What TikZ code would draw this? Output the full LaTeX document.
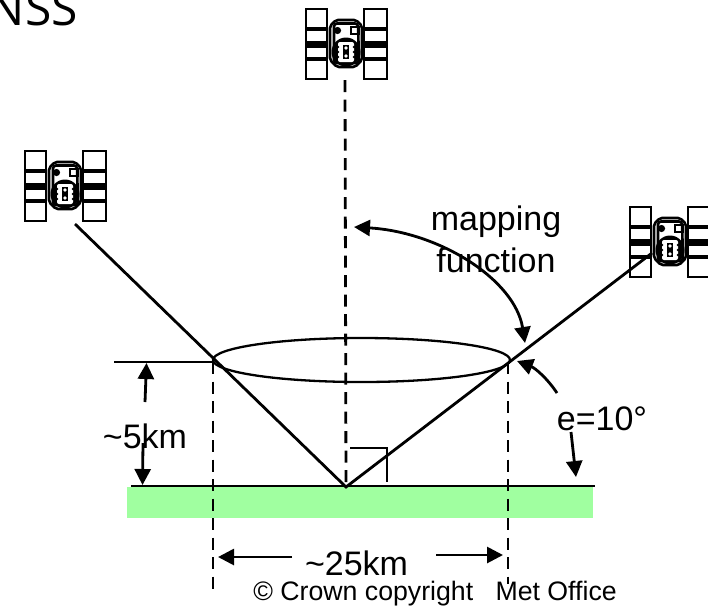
\documentclass[tikz,border=0pt]{standalone}
\usepackage{xcolor}
\usepackage{fontspec}
\setmainfont{Liberation Sans}
\newfontfamily\titlefont{Open Sans}
\usetikzlibrary{positioning,arrows.meta,shapes.geometric}
\definecolor{GroundGreen}{RGB}{160,255,160}
\tikzset{
  txtbig/.style={font=\fontsize{34}{41.5}\selectfont, inner sep=0pt, anchor=base, align=center},
  txtsmall/.style={font=\fontsize{26.7}{32}\selectfont, inner sep=0pt, anchor=base},
  solidln/.style={line width=2.8pt, black},
  thinln/.style={line width=2.3pt, black},
  dashln/.style={line width=2.8pt, black, dash pattern=on 12pt off 7.5pt},
  arr/.style={-{Triangle[length=16pt,width=16pt]}, line width=2.8pt, black},
  twoarr/.style={{Triangle[length=16pt,width=16pt]}-{Triangle[length=16pt,width=16pt]}, line width=2.8pt, black},
  satellite/.pic={
    % panels
    \draw[line width=2.8pt] (-40,-35) rectangle (-19,35);
    \draw[line width=2.8pt] (18,-35) rectangle (41,35);
    \foreach \y/\w in {-15/4.5, 0/7, 15/4.5} {
      \draw[line width=\w pt] (-40,\y) -- (-19,\y);
      \draw[line width=\w pt] (18,\y) -- (41,\y);
    }
    % body
    \draw[fill=white, line width=2.6pt, rounded corners=2pt] (-10,-24) -- (10,-24) -- (16,-18) -- (16,16) -- (9,23) -- (-9,23) -- (-16,16) -- (-16,-18) -- cycle;
    \draw[line width=2.6pt, rounded corners=3pt] (-12,-20.5) -- (12,-20.5) -- (13,19) -- (-12,19) -- cycle;
    \fill (-8.5,-13.5) circle (3.6);
    \draw[line width=1.8pt] (5,-17) rectangle (13,-10);
    \fill (0,8) circle (14.5);
    \fill[white, rounded corners=2pt] (-8,-2) rectangle (8,18);
    \fill (-3,1) rectangle (3,15);
    \fill[white] (0,4) circle (1.8) (0,12) circle (1.8);
    \fill (-8,3) circle (1.3) (-8,8) circle (1.3) (-8,13) circle (1.3) (8,3) circle (1.3) (8,8) circle (1.3) (8,13) circle (1.3);
  },
}
\begin{document}
\begin{tikzpicture}[x=1pt, y=-1pt, >=Stealth]
  \useasboundingbox (0,0) rectangle (708,606);
  \node[font=\titlefont\fontsize{48}{48}\selectfont, inner sep=0pt, anchor=base east] (title) at (78,25.5) {NSS};

  \pic at (346,44) {satellite};
  \pic at (65,186) {satellite};
  \pic at (670,242) {satellite};

  \node[fill=GroundGreen, inner sep=0pt, minimum width=466pt, minimum height=31pt] (ground) at (360,502.5) {};
  \node[draw, ellipse, thinln, inner sep=0pt, minimum width=297pt, minimum height=44pt] (cone) at (361.5,360) {};

  % line ends
  \coordinate (satL) at (75,224);
  \coordinate (satT) at (345,80);
  \coordinate (satR) at (652,253);
  \coordinate (foot) at (346,487);
  \coordinate (grL) at (131,486);
  \coordinate (grR) at (595,486);
  \coordinate (topL) at (114,362);
  \coordinate (dashLtop) at (213,362);
  \coordinate (dashLbot) at (213,595);
  \coordinate (dashRtop) at (508,362);
  \coordinate (dashRbot) at (508,584);

  \draw[solidln] (satL) -- (foot) -- (satR);
  \draw[solidln] (grL) -- (grR);
  \draw[thinln] (topL) -- (dashLtop);
  \draw[dashln] (satT) -- (foot);
  \draw[dashln] (dashLtop) -- (dashLbot);
  \draw[dashln] (dashRtop) -- (dashRbot);

  % right angle
  \coordinate (rA) at (350,448);
  \coordinate (rB) at (387,448);
  \coordinate (rC) at (387,482);
  \draw[thinln] (rA) -- (rB) -- (rC);

  % labels
  \node[txtbig] (mapfn) at (496,272) {mapping\\function};
  \node[txtbig] (elev) at (602,430) {e=10°};
  \node[txtbig] (hgt) at (145,448) {\textasciitilde 5km};
  \node[txtbig] (wid) at (356.5,575) {\textasciitilde 25km};
  \node[txtsmall] (copy) at (435,600) {© Crown copyright\ \ \ Met Office};

  % height arrows
  \coordinate (hUp0) at (145,402);
  \coordinate (hUp1) at (146.5,363);
  \coordinate (hDn0) at (143,443);
  \coordinate (hDn1) at (142.5,485);
  \draw[arr] (hUp0) -- (hUp1);
  \draw[arr] (hDn0) -- (hDn1);

  % width arrows
  \coordinate (wL0) at (292,557);
  \coordinate (wL1) at (218,557);
  \coordinate (wR0) at (436,555);
  \coordinate (wR1) at (503,555);
  \draw[arr] (wL0) -- (wL1);
  \draw[arr] (wR0) -- (wR1);

  % mapping function arrow
  \coordinate (mA) at (354,227);
  \coordinate (mB) at (525,343);
  \draw[twoarr] (mA) .. controls (440,232) and (515,280) .. (mB);

  % elevation arrows
  \coordinate (eA) at (557,393);
  \coordinate (eB) at (517,361);
  \coordinate (eC) at (571,432);
  \coordinate (eD) at (576,477);
  \draw[arr] (eA) .. controls (547,378) and (535,368) .. (eB);
  \draw[arr] (eC) -- (eD);
\end{tikzpicture}
\end{document}
